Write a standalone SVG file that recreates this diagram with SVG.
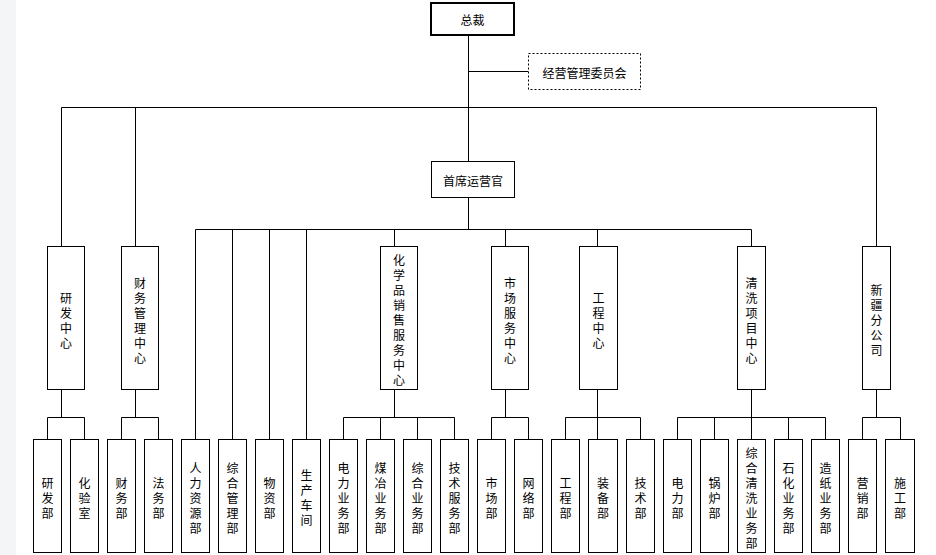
<svg xmlns="http://www.w3.org/2000/svg" width="936" height="555" viewBox="0 0 936 555">
<style>
.b{fill:#fff;stroke:#000;stroke-width:1}
.c{fill:none;stroke:#000;stroke-width:1}
.t{font-family:"Noto Sans CJK SC","Noto Sans CJK TC",sans-serif;font-size:12px;fill:#000;dominant-baseline:central;text-anchor:middle}
</style>
<rect x="0" y="0" width="936" height="555" fill="#fff"/>
<rect x="0" y="0" width="16" height="555" fill="#f4f5f7"/>
<g id="connectors" class="c">
<path d="M468.5 35V161.5M468.5 197.5V229.5M468.5 71.5H528.5"/>
<path d="M61.5 107.5H876.5M61.5 107.5V246.5M135.5 107.5V246.5M876.5 107.5V246.5"/>
<path d="M195.5 229.5H751.5M394.5 229.5V246.5M505.5 229.5V246.5M597.5 229.5V246.5M751.5 229.5V246.5"/>
<path d="M195.5 229.5V439.5M232.5 229.5V439.5M269.5 229.5V439.5M306.5 229.5V439.5"/>
<path d="M61.5 389.5V417.5M47.5 417.5H84.5M47.5 417.5V439.5M84.5 417.5V439.5"/>
<path d="M135.5 389.5V417.5M121.5 417.5H158.5M121.5 417.5V439.5M158.5 417.5V439.5"/>
<path d="M394.5 389.5V417.5M343.5 417.5H454.5M343.5 417.5V439.5M380.5 417.5V439.5M417.5 417.5V439.5M454.5 417.5V439.5"/>
<path d="M505.5 389.5V417.5M491.5 417.5H528.5M491.5 417.5V439.5M528.5 417.5V439.5"/>
<path d="M597.5 389.5V439.5M565.5 417.5H640.5M565.5 417.5V439.5M640.5 417.5V439.5"/>
<path d="M751.5 389.5V439.5M677.5 417.5H825.5M677.5 417.5V439.5M714.5 417.5V439.5M788.5 417.5V439.5M825.5 417.5V439.5"/>
<path d="M876.5 389.5V417.5M862.5 417.5H900.5M862.5 417.5V439.5M900.5 417.5V439.5"/>
</g>
<g id="n-president"><rect x="431" y="3" width="83" height="32" fill="#fff" stroke="#000" stroke-width="2"/><text class="t" x="472.5" y="19">总裁</text></g>
<g id="n-committee"><rect x="528.5" y="53.5" width="112" height="36" fill="#fff" stroke="#000" stroke-width="1" stroke-dasharray="2,2"/><text class="t" x="584.5" y="72">经营管理委员会</text></g>
<g id="n-coo"><rect class="b" x="431.5" y="161.5" width="83" height="36"/><text class="t" x="473" y="180">首席运营官</text></g>

<g id="n-rd"><rect class="b" x="47.5" y="246.5" width="37" height="143"/><text class="t"><tspan x="66" y="296.5">研</tspan><tspan x="66" y="311.5">发</tspan><tspan x="66" y="326.5">中</tspan><tspan x="66" y="341.5">心</tspan></text></g>
<g id="n-fin"><rect class="b" x="121.5" y="246.5" width="37" height="143"/><text class="t"><tspan x="140" y="281.5">财</tspan><tspan x="140" y="296.5">务</tspan><tspan x="140" y="311.5">管</tspan><tspan x="140" y="326.5">理</tspan><tspan x="140" y="341.5">中</tspan><tspan x="140" y="356.5">心</tspan></text></g>
<g id="n-chem"><rect class="b" x="380.5" y="246.5" width="37" height="143"/><text class="t"><tspan x="399" y="259">化</tspan><tspan x="399" y="274">学</tspan><tspan x="399" y="289">品</tspan><tspan x="399" y="304">销</tspan><tspan x="399" y="319">售</tspan><tspan x="399" y="334">服</tspan><tspan x="399" y="349">务</tspan><tspan x="399" y="364">中</tspan><tspan x="399" y="379">心</tspan></text></g>
<g id="n-market"><rect class="b" x="491.5" y="246.5" width="37" height="143"/><text class="t"><tspan x="510" y="281.5">市</tspan><tspan x="510" y="296.5">场</tspan><tspan x="510" y="311.5">服</tspan><tspan x="510" y="326.5">务</tspan><tspan x="510" y="341.5">中</tspan><tspan x="510" y="356.5">心</tspan></text></g>
<g id="n-eng"><rect class="b" x="579.5" y="246.5" width="38" height="143"/><text class="t"><tspan x="598.5" y="296.5">工</tspan><tspan x="598.5" y="311.5">程</tspan><tspan x="598.5" y="326.5">中</tspan><tspan x="598.5" y="341.5">心</tspan></text></g>
<g id="n-clean"><rect class="b" x="737.5" y="246.5" width="28" height="143"/><text class="t"><tspan x="751.5" y="281.5">清</tspan><tspan x="751.5" y="296.5">洗</tspan><tspan x="751.5" y="311.5">项</tspan><tspan x="751.5" y="326.5">目</tspan><tspan x="751.5" y="341.5">中</tspan><tspan x="751.5" y="356.5">心</tspan></text></g>
<g id="n-xj"><rect class="b" x="862.5" y="246.5" width="28" height="143"/><text class="t"><tspan x="876.5" y="289">新</tspan><tspan x="876.5" y="304">疆</tspan><tspan x="876.5" y="319">分</tspan><tspan x="876.5" y="334">公</tspan><tspan x="876.5" y="349">司</tspan></text></g>

<g id="d-rd"><rect class="b" x="33.5" y="439.5" width="28" height="113"/><text class="t"><tspan x="47.5" y="481.5">研</tspan><tspan x="47.5" y="496.5">发</tspan><tspan x="47.5" y="511.5">部</tspan></text></g>
<g id="d-lab"><rect class="b" x="70.5" y="439.5" width="28" height="113"/><text class="t"><tspan x="84.5" y="481.5">化</tspan><tspan x="84.5" y="496.5">验</tspan><tspan x="84.5" y="511.5">室</tspan></text></g>
<g id="d-fin"><rect class="b" x="107.5" y="439.5" width="28" height="113"/><text class="t"><tspan x="121.5" y="481.5">财</tspan><tspan x="121.5" y="496.5">务</tspan><tspan x="121.5" y="511.5">部</tspan></text></g>
<g id="d-law"><rect class="b" x="144.5" y="439.5" width="28" height="113"/><text class="t"><tspan x="158.5" y="481.5">法</tspan><tspan x="158.5" y="496.5">务</tspan><tspan x="158.5" y="511.5">部</tspan></text></g>
<g id="d-hr"><rect class="b" x="181.5" y="439.5" width="28" height="113"/><text class="t"><tspan x="195.5" y="466.5">人</tspan><tspan x="195.5" y="481.5">力</tspan><tspan x="195.5" y="496.5">资</tspan><tspan x="195.5" y="511.5">源</tspan><tspan x="195.5" y="526.5">部</tspan></text></g>
<g id="d-admin"><rect class="b" x="218.5" y="439.5" width="28" height="113"/><text class="t"><tspan x="232.5" y="466.5">综</tspan><tspan x="232.5" y="481.5">合</tspan><tspan x="232.5" y="496.5">管</tspan><tspan x="232.5" y="511.5">理</tspan><tspan x="232.5" y="526.5">部</tspan></text></g>
<g id="d-mat"><rect class="b" x="255.5" y="439.5" width="28" height="113"/><text class="t"><tspan x="269.5" y="481.5">物</tspan><tspan x="269.5" y="496.5">资</tspan><tspan x="269.5" y="511.5">部</tspan></text></g>
<g id="d-prod"><rect class="b" x="292.5" y="439.5" width="28" height="113"/><text class="t"><tspan x="306.5" y="474">生</tspan><tspan x="306.5" y="489">产</tspan><tspan x="306.5" y="504">车</tspan><tspan x="306.5" y="519">间</tspan></text></g>
<g id="d-power"><rect class="b" x="329.5" y="439.5" width="28" height="113"/><text class="t"><tspan x="343.5" y="466.5">电</tspan><tspan x="343.5" y="481.5">力</tspan><tspan x="343.5" y="496.5">业</tspan><tspan x="343.5" y="511.5">务</tspan><tspan x="343.5" y="526.5">部</tspan></text></g>
<g id="d-coal"><rect class="b" x="366.5" y="439.5" width="28" height="113"/><text class="t"><tspan x="380.5" y="466.5">煤</tspan><tspan x="380.5" y="481.5">冶</tspan><tspan x="380.5" y="496.5">业</tspan><tspan x="380.5" y="511.5">务</tspan><tspan x="380.5" y="526.5">部</tspan></text></g>
<g id="d-gen"><rect class="b" x="403.5" y="439.5" width="28" height="113"/><text class="t"><tspan x="417.5" y="466.5">综</tspan><tspan x="417.5" y="481.5">合</tspan><tspan x="417.5" y="496.5">业</tspan><tspan x="417.5" y="511.5">务</tspan><tspan x="417.5" y="526.5">部</tspan></text></g>
<g id="d-tech"><rect class="b" x="440.5" y="439.5" width="28" height="113"/><text class="t"><tspan x="454.5" y="466.5">技</tspan><tspan x="454.5" y="481.5">术</tspan><tspan x="454.5" y="496.5">服</tspan><tspan x="454.5" y="511.5">务</tspan><tspan x="454.5" y="526.5">部</tspan></text></g>
<g id="d-mkt"><rect class="b" x="477.5" y="439.5" width="28" height="113"/><text class="t"><tspan x="491.5" y="481.5">市</tspan><tspan x="491.5" y="496.5">场</tspan><tspan x="491.5" y="511.5">部</tspan></text></g>
<g id="d-net"><rect class="b" x="514.5" y="439.5" width="28" height="113"/><text class="t"><tspan x="528.5" y="481.5">网</tspan><tspan x="528.5" y="496.5">络</tspan><tspan x="528.5" y="511.5">部</tspan></text></g>
<g id="d-eng"><rect class="b" x="551.5" y="439.5" width="28" height="113"/><text class="t"><tspan x="565.5" y="481.5">工</tspan><tspan x="565.5" y="496.5">程</tspan><tspan x="565.5" y="511.5">部</tspan></text></g>
<g id="d-equip"><rect class="b" x="588.5" y="439.5" width="29" height="113"/><text class="t"><tspan x="603" y="481.5">装</tspan><tspan x="603" y="496.5">备</tspan><tspan x="603" y="511.5">部</tspan></text></g>
<g id="d-tech2"><rect class="b" x="626.5" y="439.5" width="28" height="113"/><text class="t"><tspan x="640.5" y="481.5">技</tspan><tspan x="640.5" y="496.5">术</tspan><tspan x="640.5" y="511.5">部</tspan></text></g>
<g id="d-power2"><rect class="b" x="663.5" y="439.5" width="28" height="113"/><text class="t"><tspan x="677.5" y="481.5">电</tspan><tspan x="677.5" y="496.5">力</tspan><tspan x="677.5" y="511.5">部</tspan></text></g>
<g id="d-boiler"><rect class="b" x="700.5" y="439.5" width="28" height="113"/><text class="t"><tspan x="714.5" y="481.5">锅</tspan><tspan x="714.5" y="496.5">炉</tspan><tspan x="714.5" y="511.5">部</tspan></text></g>
<g id="d-gclean"><rect class="b" x="737.5" y="439.5" width="28" height="113"/><text class="t"><tspan x="751.5" y="451.5">综</tspan><tspan x="751.5" y="466.5">合</tspan><tspan x="751.5" y="481.5">清</tspan><tspan x="751.5" y="496.5">洗</tspan><tspan x="751.5" y="511.5">业</tspan><tspan x="751.5" y="526.5">务</tspan><tspan x="751.5" y="541.5">部</tspan></text></g>
<g id="d-petro"><rect class="b" x="774.5" y="439.5" width="28" height="113"/><text class="t"><tspan x="788.5" y="466.5">石</tspan><tspan x="788.5" y="481.5">化</tspan><tspan x="788.5" y="496.5">业</tspan><tspan x="788.5" y="511.5">务</tspan><tspan x="788.5" y="526.5">部</tspan></text></g>
<g id="d-paper"><rect class="b" x="811.5" y="439.5" width="28" height="113"/><text class="t"><tspan x="825.5" y="466.5">造</tspan><tspan x="825.5" y="481.5">纸</tspan><tspan x="825.5" y="496.5">业</tspan><tspan x="825.5" y="511.5">务</tspan><tspan x="825.5" y="526.5">部</tspan></text></g>
<g id="d-sales"><rect class="b" x="848.5" y="439.5" width="28" height="113"/><text class="t"><tspan x="862.5" y="481.5">营</tspan><tspan x="862.5" y="496.5">销</tspan><tspan x="862.5" y="511.5">部</tspan></text></g>
<g id="d-build"><rect class="b" x="885.5" y="439.5" width="29" height="113"/><text class="t"><tspan x="900" y="481.5">施</tspan><tspan x="900" y="496.5">工</tspan><tspan x="900" y="511.5">部</tspan></text></g>
</svg>
